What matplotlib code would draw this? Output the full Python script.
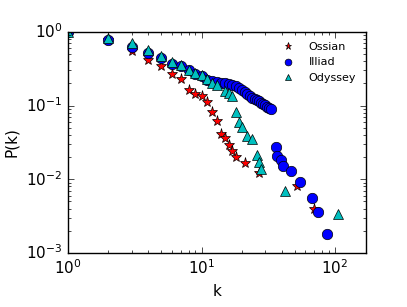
import matplotlib
matplotlib.use("Agg")
import matplotlib.pyplot as plt

# degree distributions
ossian_k = [1, 2, 3, 4, 5, 6, 7, 8, 9, 10, 11, 12, 13, 14, 15, 16, 17, 18, 21, 27, 52, 70]
ossian_p = [1.0, 0.78, 0.55, 0.42, 0.34, 0.27, 0.23, 0.163, 0.144, 0.137, 0.111, 0.081,
            0.061, 0.041, 0.036, 0.029, 0.024, 0.020, 0.0165, 0.0123, 0.008, 0.004]

illiad_k = [1, 2, 3, 4, 5, 6, 7, 8, 9, 10, 11, 12, 13, 14, 15, 16, 17, 18, 19, 20, 21, 22,
            23, 24, 25, 26, 27, 28, 29, 30, 31, 32, 33, 36, 37, 39.5, 41, 47, 55, 67, 74, 87]
illiad_p = [1.0, 0.78, 0.63, 0.51, 0.44, 0.37, 0.34, 0.30, 0.27, 0.25, 0.225, 0.215, 0.21,
            0.205, 0.20, 0.195, 0.19, 0.183, 0.175, 0.165, 0.153, 0.145, 0.135, 0.128, 0.122,
            0.118, 0.114, 0.110, 0.106, 0.102, 0.097, 0.093, 0.090, 0.0278, 0.0208, 0.0183,
            0.0152, 0.013, 0.0093, 0.0055, 0.00365, 0.0018]

odyssey_k = [1, 2, 3, 4, 5, 6, 7, 8, 9, 10, 11, 12, 13, 15, 16, 17, 18, 19, 20, 22, 24, 26,
             27, 28, 42, 105]
odyssey_p = [1.0, 0.82, 0.71, 0.57, 0.47, 0.39, 0.36, 0.305, 0.28, 0.26, 0.228, 0.205, 0.19,
             0.16, 0.147, 0.135, 0.081, 0.0605, 0.052, 0.039, 0.035, 0.0215, 0.0174, 0.0137,
             0.007, 0.0034]

plt.style.use("classic")
fig = plt.figure(figsize=(4.07, 3.07), dpi=100, facecolor="white")
ax = fig.add_axes([0.167, 0.176, 0.732, 0.72])

ax.loglog(ossian_k, ossian_p, "r*", ms=8, mec="k", mew=0.5, label="Ossian")
ax.loglog(illiad_k, illiad_p, "bo", ms=7.5, mec="k", mew=0.5, label="Illiad")
ax.loglog(odyssey_k, odyssey_p, "c^", ms=7.5, mec="k", mew=0.5, label="Odyssey")

ax.set_xlim(1, 170)
ax.set_ylim(1e-3, 1)
ax.set_xlabel("k", fontsize=11)
ax.set_ylabel("P(k)", fontsize=11)
ax.tick_params(labelsize=11)
ax.legend(loc="upper right", frameon=False, numpoints=1, markerscale=0.65, fontsize=8)

fig.savefig("out.png", dpi=100, facecolor="white")
